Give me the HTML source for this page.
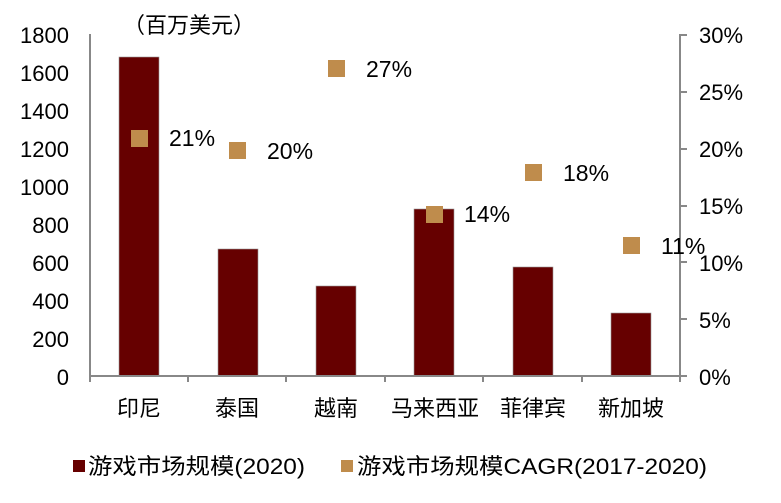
<!DOCTYPE html>
<html><head><meta charset="utf-8"><style>
body{margin:0;background:#fff}
text{font-family:"Liberation Sans","Noto Sans CJK SC",sans-serif;fill:#000}
</style></head><body>
<svg width="781" height="498" xmlns="http://www.w3.org/2000/svg">
<g font-size="22" text-anchor="end">
<text x="69" y="43">1800</text><text x="69" y="81">1600</text><text x="69" y="119">1400</text><text x="69" y="157">1200</text><text x="69" y="195">1000</text><text x="69" y="233">800</text><text x="69" y="271">600</text><text x="69" y="309">400</text><text x="69" y="347">200</text><text x="69" y="385">0</text>
</g>
<g font-size="22" text-anchor="start">
<text x="699" y="43">30%</text><text x="699" y="100">25%</text><text x="699" y="157">20%</text><text x="699" y="214">15%</text><text x="699" y="271">10%</text><text x="699" y="328">5%</text><text x="699" y="385">0%</text>
</g>
<text x="123" y="33" font-size="22">（百万美元）</text>
<g fill="#660000" stroke="#999" stroke-width="0.6">
<rect x="119" y="57" width="40" height="319"/>
<rect x="218" y="249" width="40" height="127"/>
<rect x="316" y="286" width="40" height="90"/>
<rect x="414" y="209" width="40" height="167"/>
<rect x="513" y="267" width="40" height="109"/>
<rect x="611" y="313" width="40" height="63"/>
</g>
<g stroke="#888" stroke-width="2" fill="none">
<line x1="90" y1="34" x2="90" y2="377"/>
<line x1="680" y1="34" x2="680" y2="377"/>
<line x1="89" y1="376" x2="687" y2="376"/>
<path d="M90 376v6M188 376v6M286 376v6M385 376v6M483 376v6M582 376v6M680 376v6"/>
<path d="M680 35h7M680 92h7M680 149h7M680 206h7M680 262h7M680 319h7M680 376h7"/>
</g>
<g fill="#bf8c4c">
<rect x="131" y="130" width="17" height="17"/>
<rect x="229" y="142" width="17" height="17"/>
<rect x="328" y="60" width="17" height="17"/>
<rect x="426" y="206" width="17" height="17"/>
<rect x="525" y="164" width="17" height="17"/>
<rect x="623" y="237" width="17" height="17"/>
</g>
<g font-size="23">
<text x="169" y="146">21%</text><text x="267" y="159">20%</text><text x="366" y="77">27%</text><text x="464" y="222">14%</text><text x="563" y="181">18%</text><text x="661" y="254">11%</text>
</g>
<g font-size="22" text-anchor="middle">
<text x="139" y="416">印尼</text><text x="237" y="416">泰国</text><text x="336" y="416">越南</text><text x="435" y="416">马来西亚</text><text x="533" y="416">菲律宾</text><text x="631" y="416">新加坡</text>
</g>
<rect x="73" y="460" width="12" height="12" fill="#660000"/>
<text x="88" y="474" font-size="22" textLength="217" lengthAdjust="spacingAndGlyphs">游戏市场规模(2020)</text>
<rect x="341" y="460" width="12" height="12" fill="#bf8c4c"/>
<text x="357" y="474" font-size="22" textLength="350" lengthAdjust="spacingAndGlyphs">游戏市场规模CAGR(2017-2020)</text>
</svg>
</body></html>
